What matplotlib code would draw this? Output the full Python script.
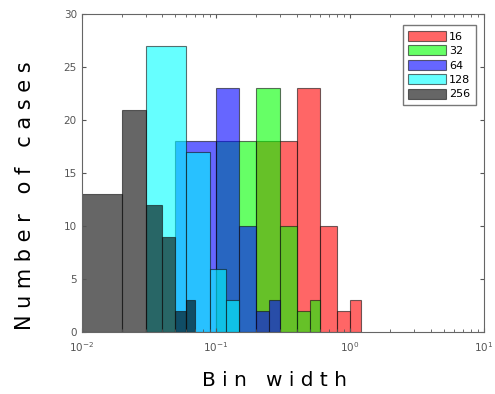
import numpy as np
import matplotlib
matplotlib.use("Agg")
import matplotlib.pyplot as plt

# bin edges and counts per series
labels = ["16", "32", "64", "128", "256"]
colors = ["#ff0000", "#00ff00", "#0000ff", "#00ffff", "#000000"]

edges_16 = [0.2, 0.4, 0.6, 0.8, 1.0, 1.2]
counts_16 = [18, 23, 10, 2, 3]
edges_32 = [0.1, 0.2, 0.3, 0.4, 0.5, 0.6]
counts_32 = [18, 23, 10, 2, 3]
edges_64 = [0.05, 0.10, 0.15, 0.20, 0.25, 0.30]
counts_64 = [18, 23, 10, 2, 3]
edges_128 = [0.03, 0.06, 0.09, 0.12, 0.15]
counts_128 = [27, 17, 6, 3]
edges_256 = [0.01, 0.02, 0.03, 0.04, 0.05, 0.06, 0.07]
counts_256 = [13, 21, 12, 9, 2, 3]

all_edges = [edges_16, edges_32, edges_64, edges_128, edges_256]
all_counts = [counts_16, counts_32, counts_64, counts_128, counts_256]

fig = plt.figure(figsize=(4.95, 3.94), dpi=100)
ax = fig.add_axes([0.165, 0.157, 0.813, 0.807])

for e, c, col, lab in zip(all_edges, all_counts, colors, labels):
    e = np.array(e)
    ax.hist(e[:-1], bins=e, weights=c, facecolor=col, alpha=0.6,
            edgecolor="#111111", linewidth=0.8, label=lab)

ax.set_xscale("log")
ax.set_xlim(0.01, 10)
ax.set_ylim(0, 30)
ax.set_yticks([0, 5, 10, 15, 20, 25, 30])

ax.tick_params(which="both", direction="in", top=True, right=True,
               labelsize=7.5, labelcolor="#555555", color="#555555")
ax.tick_params(axis="x", which="major", pad=6)
ax.tick_params(which="major", length=3)
ax.tick_params(which="minor", length=2)
for s in ax.spines.values():
    s.set_color("#666666")
    s.set_linewidth(0.8)

ax.set_xlabel("B i n   w i d t h", fontsize=14.5, va="baseline")
ax.set_ylabel("N u m b e r   o f   c a s e s", fontsize=15)
ax.xaxis.set_label_coords(0.478, -0.170)
ax.yaxis.set_label_coords(-0.115, 0.43)

leg = ax.legend(loc="upper right", fontsize=8, handlelength=3.4,
                handleheight=1.0, labelspacing=0.33, fancybox=False,
                edgecolor="#555555", borderpad=0.5, handletextpad=0.3,
                borderaxespad=0, bbox_to_anchor=(0.98, 0.965))
for h in leg.legend_handles:
    h.set_alpha(0.6)

fig.savefig("out.png", dpi=100)
